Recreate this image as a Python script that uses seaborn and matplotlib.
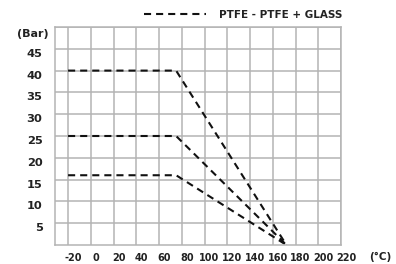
#pressure / temperature rating chart for PTFE seats
import pandas as pd
import numpy as np
import matplotlib
matplotlib.use('Agg')
import matplotlib.pyplot as plt
import matplotlib.transforms as mtrans
import seaborn as sns

#data section
temps = [-20, 75, 172]
p_high = [40, 40, 0]
p_mid = [25, 25, 0]
p_low = [16, 16, 0]
x_ticks = [-20, 0, 20, 40, 60, 80, 100, 120, 140, 160, 180, 200, 220]
y_ticks = [5, 10, 15, 20, 25, 30, 35, 40, 45]
legend_label = 'PTFE - PTFE + GLASS'

sns.set_style('white')
plt.rcParams['font.family'] = ['DejaVu Sans']
plt.rcParams['font.weight'] = 'bold'
plt.rcParams['axes.unicode_minus'] = False

txt_col = '#222222'
dash = (3.4, 2.4)

# long form table, one curve per rating
df = pd.concat([
    pd.DataFrame({'temp': temps, 'bar': p_high, 'curve': 'high'}),
    pd.DataFrame({'temp': temps, 'bar': p_mid, 'curve': 'mid'}),
    pd.DataFrame({'temp': temps, 'bar': p_low, 'curve': 'low'}),
])

fig = plt.figure(figsize=(3.96, 2.64), dpi=100)
ax = fig.add_axes([55/396, 1-245/264, 286/396, 218/264])

sns.lineplot(data=df, x='temp', y='bar', units='curve', estimator=None,
             color='#111111', lw=1.5, dashes=False, ax=ax, legend=False)
for ln in ax.get_lines():
    ln.set_dashes(dash)

ax.set_xlim(-31.5, 220)
ax.set_ylim(0, 50)
ax.set_xticks(x_ticks)
ax.set_yticks(y_ticks + [50])
ax.set_yticklabels([str(v) for v in y_ticks] + [''])
ax.grid(True, color='#b4b4b4', lw=1.1)
ax.set_axisbelow(True)
for s in ax.spines.values():
    s.set_color('#b4b4b4')
    s.set_linewidth(1.1)
ax.tick_params(length=0, colors=txt_col)
ax.tick_params(axis='x', pad=6, labelsize=7.0)
ax.tick_params(axis='y', pad=9, labelsize=8.2)
ax.set_xlabel('')
ax.set_ylabel('')

# labels sit a little right of / below their grid lines in the original
shift = mtrans.ScaledTranslation(5/100, 0, fig.dpi_scale_trans)
for lab in ax.get_xticklabels():
    lab.set_transform(lab.get_transform() + shift)
    lab.set_fontweight('bold')
yshift = mtrans.ScaledTranslation(0, -4/100, fig.dpi_scale_trans)
for lab in ax.get_yticklabels():
    lab.set_transform(lab.get_transform() + yshift)
    lab.set_fontweight('bold')

ax.text(-0.021, 0.968, '(Bar)', transform=ax.transAxes, ha='right', va='center',
        fontsize=8, fontweight='bold', color=txt_col)
ax.text(1.136, -0.055, '(°C)', transform=ax.transAxes, ha='center', va='center',
        fontsize=7.5, fontweight='bold', color=txt_col)

# legend entry above the plot
h = plt.Line2D([], [], color='#111111', lw=1.5, dashes=dash)
leg = ax.legend([h], [legend_label], loc='lower right', bbox_to_anchor=(1.03, 1.0),
                frameon=False, fontsize=7.5, handlelength=6, handletextpad=1.2,
                borderaxespad=0.3)
for t in leg.get_texts():
    t.set_fontweight('bold')
    t.set_color(txt_col)

fig.savefig('out.png', dpi=100)
